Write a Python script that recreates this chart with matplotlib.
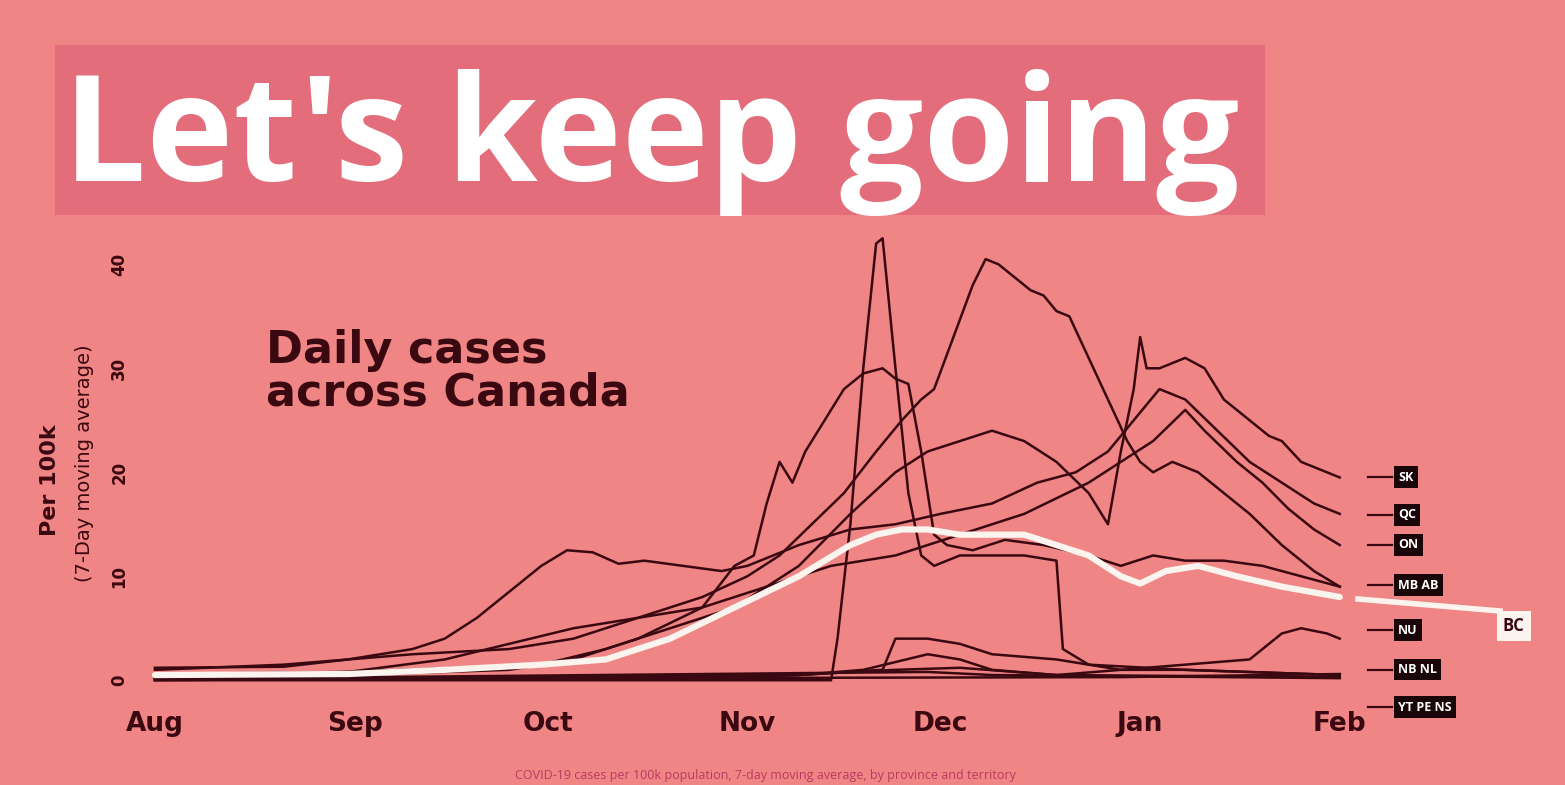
#!/usr/bin/env python3
"""Daily COVID-19 cases per 100k across Canadian provinces, Aug 2020 - Feb 2021."""
import numpy as np
import matplotlib

matplotlib.use("Agg")
import matplotlib.pyplot as plt

plt.rcParams["font.family"] = ["Open Sans", "DejaVu Sans"]

START = np.datetime64("2020-08-01T00", "h")

# (day offset from Aug 1, 7-day avg cases per 100k)
ab_days = [0, 20, 40, 55, 65, 75, 85, 92, 97, 102, 107, 112, 116, 119, 121, 124, 127, 129, 131, 134, 136, 138, 140, 142, 145, 148, 151, 153, 155, 158, 162, 166, 170, 175, 180, 184]
ab_vals = [1.0, 1.5, 2.5, 3.0, 4, 6, 8, 10, 12, 15, 18, 22, 25, 27, 28, 33, 38, 40.5, 40, 38.5, 37.5, 37, 35.5, 35, 31, 27, 23, 21, 20, 21, 20, 18, 16, 13, 10.5, 9]

sk_days = [0, 30, 60, 70, 80, 90, 100, 108, 115, 120, 125, 130, 135, 140, 145, 148, 150, 152, 153, 154, 156, 160, 163, 166, 168, 170, 173, 175, 178, 180, 184]
sk_vals = [0.3, 0.8, 1.5, 3, 5, 7, 11, 16, 20, 22, 23, 24, 23, 21, 18, 15, 22, 28, 33, 30, 30, 31, 30, 27, 26, 25, 23.5, 23, 21, 20.5, 19.5]

qc_days = [0, 20, 30, 40, 45, 50, 55, 60, 64, 68, 72, 76, 82, 88, 92, 100, 108, 115, 122, 130, 137, 143, 148, 152, 156, 160, 165, 170, 175, 180, 184]
qc_vals = [1.2, 1.3, 2, 3, 4, 6, 8.5, 11, 12.5, 12.3, 11.2, 11.5, 11, 10.5, 11, 13, 14.5, 15, 16, 17, 19, 20, 22, 25, 28, 27, 24, 21, 19, 17, 16]

on_days = [0, 30, 45, 55, 65, 75, 85, 95, 105, 115, 125, 135, 145, 150, 155, 160, 163, 168, 172, 176, 180, 184]
on_vals = [0.6, 0.8, 2, 3.5, 5, 6, 7, 9, 11, 12, 14, 16, 19, 21, 23, 26, 24, 21, 19, 16.5, 14.5, 13]

mb_days = [0, 30, 55, 65, 75, 85, 90, 93, 95, 97, 99, 101, 104, 107, 110, 113, 115, 117, 119, 121, 123, 127, 132, 138, 145, 150, 155, 160, 166, 172, 178, 184]
mb_vals = [0.3, 0.5, 1, 2, 4, 7, 11, 12, 17, 21, 19, 22, 25, 28, 29.5, 30, 29, 28.5, 22, 14, 13, 12.5, 13.5, 13, 12, 11, 12, 11.5, 11.5, 11, 10, 9]

bc_days = [0, 30, 45, 60, 70, 80, 90, 100, 108, 112, 116, 120, 125, 130, 135, 140, 145, 150, 153, 157, 162, 168, 175, 184]
bc_vals = [0.5, 0.6, 1, 1.5, 2, 4, 7, 10, 13, 14, 14.5, 14.5, 14, 14, 14, 13, 12, 10, 9.3, 10.5, 11, 10, 9, 8]

nu_days = [0, 105, 106, 108, 110, 112, 113, 115, 117, 119, 121, 125, 130, 135, 140, 141, 145, 160, 184]
nu_vals = [0, 0, 4, 15, 30, 42, 42.5, 30, 18, 12, 11, 12, 12, 12, 11.5, 3, 1.5, 1, 0.5]

nb_days = [0, 60, 100, 110, 120, 125, 130, 140, 150, 160, 170, 175, 178, 182, 184]
nb_vals = [0.1, 0.2, 0.5, 1, 2.5, 2, 1, 0.5, 1, 1.5, 2, 4.5, 5, 4.5, 4]

yt_days = [0, 100, 113, 115, 120, 125, 130, 140, 150, 160, 184]
yt_vals = [0, 0.5, 1, 4, 4, 3.5, 2.5, 2, 1, 1, 0.5]

ns_days = [0, 90, 115, 125, 140, 184]
ns_vals = [0.2, 0.2, 1, 1.2, 0.5, 0.3]

pe_days = [0, 120, 130, 184]
pe_vals = [0.1, 0.8, 0.5, 0.2]

nl_days = [0, 150, 184]
nl_vals = [0.1, 0.3, 0.6]

dark_series = [
    (ab_days, ab_vals), (sk_days, sk_vals), (qc_days, qc_vals), (on_days, on_vals),
    (mb_days, mb_vals), (nu_days, nu_vals), (nb_days, nb_vals), (yt_days, yt_vals),
    (ns_days, ns_vals), (pe_days, pe_vals), (nl_days, nl_vals),
]

month_ticks = ["2020-08-01", "2020-09-01", "2020-10-01", "2020-11-01", "2020-12-01", "2021-01-01", "2021-02-01"]
month_labels = ["Aug", "Sep", "Oct", "Nov", "Dec", "Jan", "Feb"]

# end labels and the value level they sit at
end_labels = [("SK", 19.5), ("QC", 15.9), ("ON", 13.0), ("MB AB", 9.1), ("NU", 4.8), ("NB NL", 1.0), ("YT PE NS", -2.6)]

BG = "#f08585"
TITLE_BOX = "#e36d7b"
INK = "#3a0810"
WHITE = "#fbf3ee"
BOLD = ["DejaVu Sans"]


def to_dates(days):
    return START + np.array(days, dtype="timedelta64[D]").astype("timedelta64[h]")


def main():
    W, H = 1565, 785
    fig = plt.figure(figsize=(W / 100, H / 100), dpi=100, facecolor=BG)

    # title banner
    fig.patches.append(plt.Rectangle((55 / W, 1 - 215 / H), 1210 / W, 170 / H, transform=fig.transFigure,
                                     facecolor=TITLE_BOX, edgecolor="none", zorder=0))
    fig.text(63 / W, 1 - 181 / H, "Let's keep going", color="white", fontsize=106, fontweight="bold",
             ha="left", va="baseline")

    ax = fig.add_axes([145 / W, 1 - 700 / H, 1220 / W, 470 / H])
    ax.set_facecolor("none")
    for s in ax.spines.values():
        s.set_visible(False)

    for d, v in dark_series:
        ax.plot(to_dates(d), v, color=INK, lw=1.8, solid_joinstyle="round", zorder=2)
    ax.plot(to_dates(bc_days), bc_vals, color=WHITE, lw=4.5, solid_capstyle="round", zorder=3)

    ax.set_xlim(START - np.timedelta64(37, "h"), START + np.timedelta64(4510, "h"))
    ax.set_ylim(-1.9, 43.3)
    ax.set_xticks(np.array(month_ticks, dtype="datetime64[h]"))
    ax.set_xticklabels(month_labels, fontsize=19, fontweight="bold", color=INK, family=BOLD)
    ax.set_yticks([0, 10, 20, 30, 40])
    ax.set_yticklabels(["0", "10", "20", "30", "40"], fontsize=12, fontweight="bold", color=INK,
                       rotation=90, va="center", family=BOLD)
    ax.tick_params(length=0, pad=12)
    ax.tick_params(axis="x", pad=8)

    fig.text(50 / W, 1 - 480 / H, "Per 100k", rotation=90, fontsize=16, fontweight="bold", color=INK,
             ha="center", va="center", family=BOLD)
    fig.text(85 / W, 1 - 463 / H, "(7-Day moving average)", rotation=90, fontsize=14, color=INK,
             ha="center", va="center", family=BOLD)

    fig.text(266 / W, 1 - 372 / H, "Daily cases\nacross Canada", fontsize=32, fontweight="bold",
             color=INK, ha="left", va="center", linespacing=1.0, family=BOLD)

    # end-of-line labels
    for text, yv in end_labels:
        ypx = 680 - 10.4 * yv
        yf = 1 - ypx / H
        fig.lines.append(plt.Line2D([1368 / W, 1392 / W], [yf, yf], transform=fig.transFigure,
                                    color=INK, lw=1.6))
        fig.text(1398 / W, yf, text, fontsize=9, fontweight="bold", color="white", ha="left", va="center",
                 bbox=dict(boxstyle="square,pad=0.35", facecolor="#1a0508", edgecolor="none"))
    fig.lines.append(plt.Line2D([1358 / W, 1500 / W], [1 - 599 / H, 1 - 611 / H],
                                transform=fig.transFigure, color=WHITE, lw=4.0))
    fig.text(1503 / W, 1 - 626 / H, "BC", fontsize=12, fontweight="bold", color=INK, ha="left", va="center",
             bbox=dict(boxstyle="square,pad=0.35", facecolor=WHITE, edgecolor="none"))

    fig.text(765 / W, 1 - 776 / H, "COVID-19 cases per 100k population, 7-day moving average, by province and territory",
             fontsize=9, color="#b83a60", ha="center", va="center")

    fig.savefig("out.png", dpi=100, facecolor=BG)
    plt.close(fig)


if __name__ == "__main__":
    main()
